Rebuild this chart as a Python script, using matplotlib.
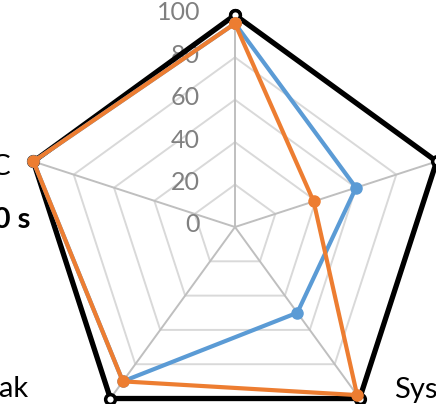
import numpy as np
import matplotlib
matplotlib.use('Agg')
import matplotlib.pyplot as plt
from matplotlib.transforms import offset_copy

plt.rcParams['font.family'] = ['Lato', 'DejaVu Sans']

# categories clockwise from the top
categories = ['Latency', 'Throughput', 'System', 'Peak', 'C']
ticks = [0, 20, 40, 60, 80, 100]
black_vals = [100, 100, 100, 100, 100]
blue_vals = [96, 60, 50, 90, 100]
orange_vals = [96, 39, 98, 90, 100]

n = len(categories)
theta = np.arange(n) * 2 * np.pi / n


def closed(v):
    return np.append(theta, theta[0]), np.append(v, v[0])


fig = plt.figure(figsize=(4.36, 4.04), dpi=100)
# chart is cropped: axes box extends past the figure
ax = fig.add_axes([23 / 436, -35 / 404, 424 / 436, 424 / 404], projection='polar')
ax.set_theta_offset(np.pi / 2)
ax.set_theta_direction(-1)
ax.set_ylim(0, 100)
ax.set_frame_on(False)
ax.grid(False)
ax.set_xticks([])
ax.set_yticks([])

# pentagon gridlines and spokes
for t in ticks[1:]:
    tx, ty = closed([t] * n)
    ax.plot(tx, ty, color='#d9d9d9', lw=1.4, clip_on=False, zorder=1)
for th in theta:
    ax.plot([th, th], [0, 100], color='#bfbfbf', lw=1.4, clip_on=False, zorder=1)

tx, ty = closed(black_vals)
ax.plot(tx, ty, color='black', lw=3.8, marker='o', ms=7, mfc='white', mec='black',
        mew=2.5, clip_on=False, zorder=3)
tx, ty = closed(blue_vals)
ax.plot(tx, ty, color='#5b9bd5', lw=3.0, marker='o', ms=8, clip_on=False, zorder=4)
tx, ty = closed(orange_vals)
ax.plot(tx, ty, color='#ed7d31', lw=3.0, marker='o', ms=8, clip_on=False, zorder=5)

# radial value labels left of the top spoke
lab_tr = offset_copy(ax.transData, fig=fig, x=-35, y=2, units='dots')
for t in ticks:
    ax.text(0, t, str(t), transform=lab_tr, ha='right', va='center',
            fontsize=18, color='#808080', zorder=2)

# category labels
def cat_text(i, s, dx, dy, ha, **kw):
    tr = offset_copy(ax.transData, fig=fig, x=dx, y=dy, units='dots')
    ax.text(theta[i], 100, s, transform=tr, ha=ha, va='center', fontsize=21,
            color='black', clip_on=False, **kw)

cat_text(0, categories[0], 0, 30, 'center')
cat_text(1, categories[1], 30, 0, 'left')
cat_text(2, categories[2], 34, 9, 'left')
cat_text(3, categories[3], -82, 10, 'right')
cat_text(4, 'RTC', -22, -6, 'right')
cat_text(4, 'at 100 s', -3, -59, 'right', fontweight='bold')

fig.savefig('out.png', dpi=100)
